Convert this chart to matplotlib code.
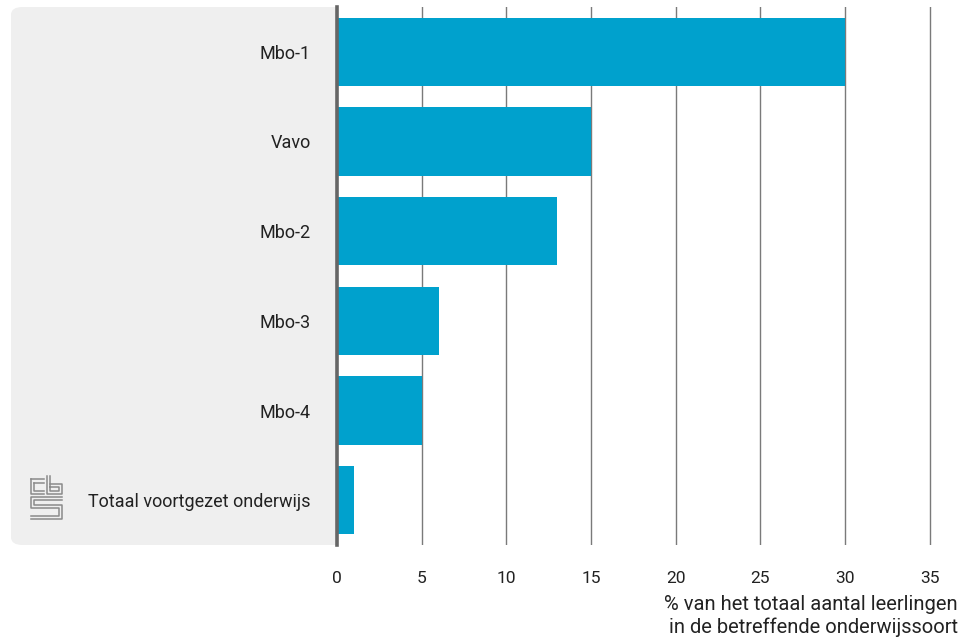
import matplotlib.pyplot as plt
from matplotlib.patches import FancyBboxPatch
from matplotlib.lines import Line2D

# --- data ---
categories = ['Mbo-1', 'Vavo', 'Mbo-2', 'Mbo-3', 'Mbo-4', 'Totaal voortgezet onderwijs']
values = [30, 15, 13, 6, 5, 1]
xticks = [0, 5, 10, 15, 20, 25, 30, 35]
xlabel = '% van het totaal aantal leerlingen\nin de betreffende onderwijssoort'

plt.rcParams['font.family'] = ['Roboto', 'DejaVu Sans']

W, H = 968, 641
fig = plt.figure(figsize=(W / 100, H / 100), dpi=100)

# grey label panel behind the category names (right edge hidden under the axes)
panel = FancyBboxPatch((11 / W, 1 - 545 / H), (360 - 11) / W, (545 - 7) / H,
                       boxstyle='round,pad=0,rounding_size=0.012',
                       transform=fig.transFigure, facecolor='#efefef',
                       edgecolor='none', zorder=0)
fig.patches.append(panel)

ax = fig.add_axes([337 / W, 1 - 545 / H, (962 - 337) / W, (545 - 7) / H])
ax.set_zorder(1)
ax.set_facecolor('white')

y = list(range(len(categories)))
ax.barh(y, values, height=0.76, color='#00a1cd', zorder=2)

ax.set_ylim(len(categories) - 0.5, -0.5)
ax.set_xlim(0, 36.9)
ax.set_xticks(xticks)
ax.set_xticklabels([str(t) for t in xticks], fontsize=12.5, color='#222222')
ax.set_yticks(y)
ax.set_yticklabels(categories, fontsize=13, color='#222222')
ax.tick_params(axis='x', length=0, pad=19)
ax.tick_params(axis='y', length=0, pad=19)

for t in xticks[1:]:
    ax.axvline(t, color='#7a7a7a', lw=1, zorder=1)

for s in ['top', 'right', 'bottom']:
    ax.spines[s].set_visible(False)
ax.spines['left'].set_color('#666666')
ax.spines['left'].set_linewidth(2.6)
ax.spines['left'].set_zorder(3)

fig.text(958 / W, 1 - 595 / H, xlabel, ha='right', va='top', fontsize=14.5,
         color='#222222', linespacing=1.2)

# small cbs logo
def px(x, yy):
    return x / W, 1 - yy / H

logo = [
    [(31, 479), (31, 494), (44, 494)],
    [(31, 479), (44, 479)],
    [(34, 483), (34, 491), (44, 491)],
    [(34, 483), (44, 483)],
    [(47, 476), (47, 494), (62, 494), (62, 484), (50, 484)],
    [(50, 476), (50, 491), (59, 491), (59, 487), (50, 487)],
    [(62, 497), (31, 497), (31, 508), (59, 508), (59, 516), (31, 516)],
    [(62, 500), (34, 500), (34, 505), (62, 505), (62, 519), (31, 519)],
]
for path in logo:
    xs, ys = zip(*[px(a, b) for a, b in path])
    fig.lines.append(Line2D(xs, ys, transform=fig.transFigure, color='#8a8a8a', lw=1.1))

fig.savefig('out.png', dpi=100)
